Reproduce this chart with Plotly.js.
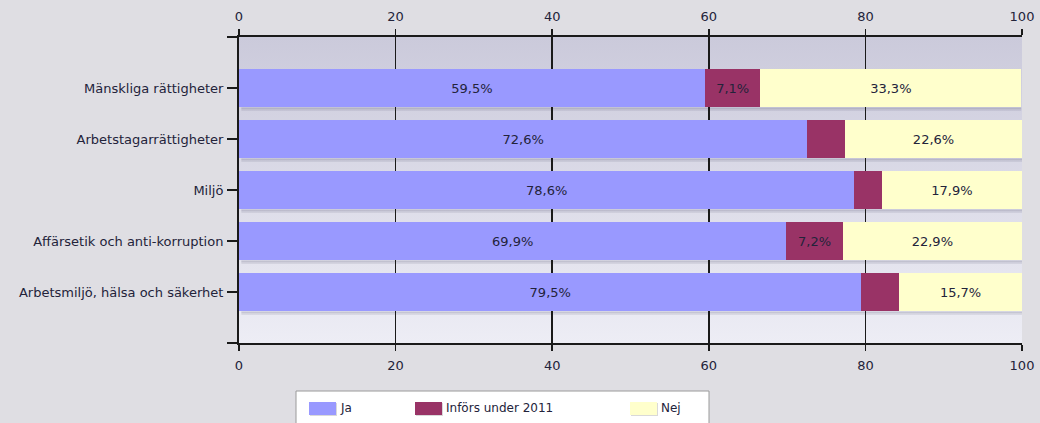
<!DOCTYPE html>
<html>
<head>
<meta charset="utf-8">
<script src="https://cdn.plot.ly/plotly-3.0.1.min.js"></script>
<style>html,body{margin:0;padding:0;background:#dfdee3;}#chart{width:1040px;height:423px;}</style>
</head>
<body>
<div id="chart"></div>
<script>
const categories = ["Mänskliga rättigheter", "Arbetstagarrättigheter", "Miljö", "Affärsetik och anti-korruption", "Arbetsmiljö, hälsa och säkerhet"];
const seriesNames = ["Ja", "Införs under 2011", "Nej"];
const ja = [59.5, 72.6, 78.6, 69.9, 79.5];
const infors = [7.1, 4.8, 3.5, 7.2, 4.8];
const nej = [33.3, 22.6, 17.9, 22.9, 15.7];
const xTicks = [0, 20, 40, 60, 80, 100];

const colors = ["#9999ff", "#993366", "#ffffcc"];
const fmt = v => v >= 5 ? v.toFixed(1).replace('.', ',') + '%' : '';

const W = 1040, H = 423, L = 239, R = 18, T = 37, B = 80;
const pw = W - L - R, ph = H - T - B;
const px = x => (x - L) / pw;
const py = y => (H - B - y) / ph;

const FONT = 'DejaVu Sans, Verdana, sans-serif';
const BARW = 0.76;
const series = [ja, infors, nej];
const traces = series.map((vals, i) => ({
  type: 'bar', orientation: 'h', name: seriesNames[i],
  y: categories, x: vals,
  width: BARW,
  marker: {color: colors[i], line: {width: 0}},
  text: vals.map(fmt), textposition: 'inside', insidetextanchor: 'middle',
  textangle: 0, constraintext: 'none',
  textfont: {family: FONT, size: 13, color: '#23233a'},
  hoverinfo: 'x+name', showlegend: false
}));
traces.push({type: 'scatter', x: [], y: [], xaxis: 'x2', yaxis: 'y', showlegend: false, hoverinfo: 'skip'});

const gradSvg = "<svg xmlns='http://www.w3.org/2000/svg' width='10' height='100' preserveAspectRatio='none'><defs><linearGradient id='g' x1='0' y1='0' x2='0' y2='1'><stop offset='0' stop-color='#cbcadb'/><stop offset='1' stop-color='#ededf5'/></linearGradient></defs><rect width='10' height='100' fill='url(#g)'/></svg>";

const axFont = {family: FONT, size: 13, color: '#23233a'};
const xCommon = {
  range: [0, 100], tickmode: 'array', tickvals: xTicks,
  showline: true, linecolor: '#1a1a1a', linewidth: 2,
  ticks: 'outside', ticklen: 6, tickwidth: 1.5, tickcolor: '#1a1a1a',
  zeroline: false, tickfont: axFont, fixedrange: true, ticklabelstandoff: 3
};

const shapes = [
  {type: 'line', xref: 'paper', yref: 'paper', x0: px(227), x1: 0, y0: 1, y1: 1, line: {color: '#1a1a1a', width: 2}},
  {type: 'line', xref: 'paper', yref: 'paper', x0: px(227), x1: 0, y0: 0, y1: 0, line: {color: '#1a1a1a', width: 2}},
  {type: 'rect', xref: 'paper', yref: 'paper', x0: px(296), x1: px(709), y0: py(445), y1: py(391), fillcolor: '#ffffff', line: {color: '#9a9a9a', width: 1}}
];
// soft shadows under each stacked bar
categories.forEach((c, i) => {
  const total = ja[i] + infors[i] + nej[i];
  [[0.00, 0.035, 'rgba(70,70,100,0.22)'], [0.035, 0.07, 'rgba(70,70,100,0.10)']].forEach(s => {
    shapes.push({type: 'rect', xref: 'x', yref: 'y', layer: 'below',
      x0: 0.3, x1: Math.min(total, 100),
      y0: i + BARW / 2 + s[0], y1: i + BARW / 2 + s[1],
      fillcolor: s[2], line: {width: 0}});
  });
});
const swX = [309, 415, 630];
const annotations = [];
seriesNames.forEach((n, i) => {
  shapes.push({type: 'rect', xref: 'paper', yref: 'paper', x0: px(swX[i] + 1), x1: px(swX[i] + 28), y0: py(416), y1: py(403), fillcolor: 'rgba(0,0,0,0.15)', line: {width: 0}});
  shapes.push({type: 'rect', xref: 'paper', yref: 'paper', x0: px(swX[i]), x1: px(swX[i] + 27), y0: py(415), y1: py(402), fillcolor: colors[i], line: {width: 0}});
  annotations.push({xref: 'paper', yref: 'paper', x: px(swX[i] + 29), y: py(408.5), xanchor: 'left', yanchor: 'middle', showarrow: false, text: n, font: {family: FONT, size: 12, color: '#23233a'}});
});

const layout = {
  width: W, height: H,
  margin: {l: L, r: R, t: T, b: B, pad: 0},
  paper_bgcolor: '#dfdee3', plot_bgcolor: 'rgba(0,0,0,0)',
  barmode: 'stack', bargap: 0.24,
  showlegend: false,
  xaxis: Object.assign({}, xCommon, {side: 'bottom', showgrid: true, gridcolor: '#1a1a1a', gridwidth: 1.5}),
  xaxis2: Object.assign({}, xCommon, {side: 'top', overlaying: 'x', matches: 'x', showgrid: false}),
  yaxis: {
    type: 'category', categoryorder: 'array', categoryarray: categories,
    range: [5, -1], showline: true, linecolor: '#1a1a1a', linewidth: 2,
    ticks: 'outside', ticklen: 10, tickwidth: 1.5, tickcolor: '#1a1a1a',
    showgrid: false, zeroline: false, tickfont: axFont, fixedrange: true, ticklabelstandoff: 1
  },
  images: [{source: 'data:image/svg+xml;charset=utf-8,' + encodeURIComponent(gradSvg), xref: 'paper', yref: 'paper', x: 0, y: 1, sizex: 1, sizey: 1, sizing: 'stretch', layer: 'below'}],
  shapes: shapes,
  annotations: annotations
};

Plotly.newPlot('chart', traces, layout, {displayModeBar: false, staticPlot: true});
</script>
</body>
</html>
